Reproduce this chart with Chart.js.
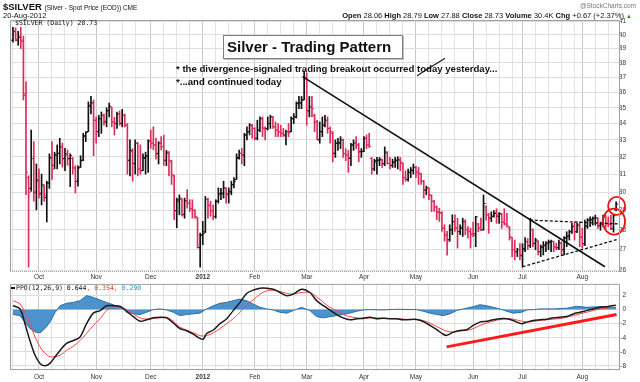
<!DOCTYPE html>
<html>
<head>
<meta charset="utf-8">
<script src="https://cdn.jsdelivr.net/npm/chart.js@4.4.1/dist/chart.umd.min.js"></script>
<style>
  html, body { margin: 0; padding: 0; background: #fff; }
  #wrap { position: relative; width: 640px; height: 382px; overflow: hidden; font-family: "Liberation Sans", Arial, sans-serif; color: #111; }
  canvas { position: absolute; left: 0; }
  #price_chart { top: 0; }
  #ppo_chart { top: 280px; }
  .t { position: absolute; white-space: nowrap; line-height: 1; }
  .mono { font-family: "DejaVu Sans Mono", monospace; font-size: 6.5px; }
  #title_box { left: 223px; top: 35px; width: 175px; height: 22px; line-height: 22px; padding-left: 3px;
    border: 1px solid #7f7f7f; box-shadow: 1px 1px 0 #c0c0c0; background: #fff; font-weight: bold; font-size: 15px; }
  .note { font-weight: bold; font-size: 9.6px; left: 176px; }
  .strike { position: relative; }
  .strike i { position: absolute; left: 55%; top: 40%; width: 33px; height: 1px; background: #111;
    transform: translate(-50%, -50%) rotate(-32deg); }
</style>
</head>
<body>
<div id="wrap">
  <canvas id="price_chart" width="640" height="286"></canvas>
  <canvas id="ppo_chart" width="640" height="102"></canvas>

  <div class="t" style="left:3px;top:2px;font-size:9.5px;font-weight:bold">$SILVER <span style="font-weight:normal;font-size:6.5px">(Silver - Spot Price (EOD)) CME</span></div>
  <div class="t" style="left:3px;top:12px;font-size:7.5px">20-Aug-2012</div>
  <div class="t" style="right:4px;top:3px;font-size:6.5px;color:#777">@StockCharts.com</div>
  <div class="t" style="right:8px;top:12px;font-size:7.5px"><b>Open</b> 28.06 <b>High</b> 28.79 <b>Low</b> 27.88 <b>Close</b> 28.73 <b>Volume</b> 30.4K <b>Chg</b> +0.67 (+2.37%) <span style="color:#1a9a1a;font-size:6px">▲</span></div>

  <div class="t mono" style="left:15px;top:20px">$SILVER (Daily) 28.73</div>
  <div class="t" style="left:11px;top:287px;width:4px;height:1.5px;background:#111"></div>
  <div class="t mono" style="left:16px;top:284.5px">PPO(12,26,9) 0.644<span style="color:#ff3333">, 0.354</span><span style="color:#3399cc">, 0.290</span></div>

  <div class="t" id="title_box">Silver - Trading Pattern</div>
  <div class="t note" style="top:64px">* the divergence-signaled trading breakout occurred <span class="strike">today<i></i></span> yesterday...</div>
  <div class="t note" style="top:77px">*...and continued today</div>
</div>

<script>
// daily bars, 16-Sep-2011 .. 21-Aug-2012 (index = trading day)
const opens = [
  39.6, 40.2, 39.6, 39.9, 39.5, 35.8, 30.8, 30.2, 31.9, 30.0,
  30.6, 29.9, 30.3, 29.7, 30.5, 31.9, 31.5, 32.1, 32.2, 32.6,
  31.9, 32.1, 31.9, 31.9, 31.3, 30.6, 31.4, 31.8, 33.2, 33.5,
  35.1, 35.3, 34.2, 33.5, 34.3, 34.5, 34.1, 34.8, 35.0, 34.1,
  34.0, 34.6, 34.0, 34.5, 33.9, 31.8, 32.3, 31.6, 32.8, 31.3,
  31.2, 31.9, 32.0, 32.9, 32.8, 32.7, 32.2, 32.8, 32.6, 31.8,
  32.2, 31.7, 30.9, 29.0, 29.5, 29.6, 28.8, 29.5, 29.4, 29.1,
  29.0, 28.6, 27.1, 27.7, 27.9, 29.6, 29.3, 29.0, 28.7, 29.5,
  29.9, 29.9, 30.2, 29.9, 30.0, 30.4, 30.7, 31.9, 32.2, 32.1,
  33.3, 33.5, 33.9, 33.7, 33.1, 33.6, 34.3, 33.7, 33.7, 34.0,
  34.4, 33.8, 33.6, 33.5, 33.4, 33.3, 33.5, 33.5, 34.3, 34.4,
  35.3, 35.3, 35.5, 37.0, 34.8, 35.1, 34.5, 34.1, 33.0, 33.5,
  33.9, 34.2, 33.7, 33.4, 32.2, 32.8, 32.8, 33.0, 32.2, 32.1,
  31.9, 32.7, 32.8, 32.7, 32.3, 32.3, 33.1, 32.7, 31.9, 31.3,
  31.7, 31.8, 31.8, 31.6, 32.2, 31.6, 31.5, 31.7, 31.8, 31.8,
  31.6, 30.8, 30.7, 31.1, 31.2, 31.4, 31.1, 31.0, 30.6, 30.1,
  30.2, 29.8, 29.5, 29.2, 28.9, 28.9, 28.1, 27.7, 27.5, 28.0,
  28.4, 28.1, 27.9, 28.1, 28.4, 28.0, 27.9, 27.8, 27.8, 28.3,
  28.1, 28.0, 29.2, 28.8, 28.6, 28.7, 28.9, 28.7, 28.8, 28.4,
  28.3, 28.1, 27.6, 27.0, 26.9, 27.0, 26.7, 27.0, 27.4, 27.2,
  28.0, 27.3, 27.4, 26.9, 27.1, 27.2, 27.3, 27.4, 27.4, 27.1,
  27.1, 27.3, 27.0, 27.6, 27.7, 27.9, 28.2, 27.9, 28.2, 27.6,
  27.3, 28.2, 28.5, 28.5, 28.6, 28.6, 28.2, 28.3, 28.7, 28.3,
  28.3, 28.06, 29.05
];
const highs = [
  40.55, 40.5, 40.25, 40.55, 39.9, 36.7, 30.9, 33.6, 32.9, 31.58,
  31.3, 31.0, 30.4, 30.6, 32.17, 32.9, 32.27, 32.7, 33.1, 32.8,
  32.5, 32.4, 32.17, 31.96, 31.48, 31.48, 32.06, 33.4, 33.5, 35.38,
  35.73, 35.5, 34.42, 34.52, 34.73, 34.6, 35.0, 35.3, 35.05, 34.4,
  34.73, 34.8, 34.9, 34.6, 34.0, 33.0, 32.48, 33.0, 32.85, 32.7,
  32.17, 32.27, 33.0, 33.6, 33.8, 33.1, 32.9, 33.2, 33.3, 32.37,
  32.3, 31.8, 30.95, 29.67, 29.85, 29.65, 29.67, 30.13, 29.58, 29.58,
  29.05, 28.65, 27.83, 28.43, 29.76, 29.67, 29.5, 29.3, 29.58, 30.23,
  30.2, 30.6, 30.23, 30.23, 30.6, 30.8, 32.17, 32.4, 32.5, 33.4,
  33.8, 34.0, 33.95, 33.75, 34.21, 34.42, 34.42, 33.8, 34.42, 34.52,
  34.45, 34.1, 34.0, 33.9, 33.7, 33.6, 34.0, 34.42, 34.63, 35.38,
  35.73, 35.73, 37.42, 37.3, 35.73, 35.73, 34.6, 34.21, 34.1, 34.42,
  34.52, 34.42, 33.8, 33.5, 33.0, 33.1, 33.2, 33.05, 32.48, 32.37,
  32.8, 33.0, 33.2, 32.8, 32.48, 33.2, 33.3, 33.4, 31.96, 31.86,
  31.96, 31.96, 31.86, 32.58, 32.3, 31.96, 31.86, 31.96, 32.0, 31.96,
  31.65, 31.19, 31.29, 31.38, 31.58, 31.45, 31.38, 31.05, 30.65, 30.33,
  30.25, 29.85, 29.55, 29.25, 29.13, 28.95, 28.26, 27.92, 28.26, 28.78,
  28.78, 28.6, 28.26, 28.6, 28.52, 28.17, 28.09, 28.4, 28.7, 28.33,
  28.6, 29.84, 29.25, 28.85, 28.93, 29.0, 29.1, 28.9, 28.85, 29.1,
  28.85, 28.16, 27.62, 27.48, 27.07, 27.3, 27.3, 27.6, 27.55, 28.6,
  28.05, 27.57, 27.45, 27.23, 27.4, 27.4, 27.48, 27.48, 27.42, 27.32,
  27.48, 27.4, 27.65, 27.9, 27.98, 28.33, 28.4, 28.33, 28.4, 28.07,
  28.5, 28.58, 28.67, 28.67, 28.76, 28.62, 28.4, 28.76, 28.76, 28.67,
  28.76, 28.79, 29.47
];
const lows = [
  39.45, 39.55, 39.23, 39.0, 35.5, 29.85, 26.15, 30.04, 29.5, 29.04,
  29.67, 29.3, 29.5, 28.4, 30.2, 30.7, 31.3, 31.3, 31.58, 31.4,
  31.2, 31.5, 30.3, 31.0, 29.95, 30.33, 31.38, 31.77, 32.9, 33.5,
  34.6, 32.06, 32.8, 33.2, 33.4, 33.9, 33.8, 34.42, 33.8, 33.3,
  33.7, 33.9, 33.8, 33.8, 31.0, 30.9, 30.6, 31.0, 30.9, 31.0,
  31.2, 31.0, 31.1, 32.5, 32.4, 31.86, 31.58, 32.4, 31.5, 31.48,
  30.9, 30.42, 28.52, 28.1, 28.78, 28.7, 28.6, 29.13, 28.95, 28.6,
  28.6, 27.08, 26.15, 27.25, 27.85, 28.6, 28.7, 28.52, 28.6, 29.4,
  29.58, 29.67, 29.4, 29.4, 29.85, 30.23, 30.7, 31.86, 31.58, 31.48,
  33.0, 33.3, 33.1, 33.0, 33.0, 33.5, 33.2, 33.0, 33.6, 33.7,
  33.7, 33.2, 33.2, 33.2, 33.2, 32.7, 33.2, 33.5, 34.0, 34.35,
  34.94, 34.94, 35.5, 33.9, 34.42, 34.42, 33.5, 33.0, 32.8, 33.2,
  33.8, 33.4, 32.8, 31.7, 31.96, 32.37, 32.48, 31.96, 31.77, 31.1,
  31.48, 32.37, 32.48, 31.7, 31.96, 32.3, 32.48, 32.55, 31.0, 31.19,
  31.0, 31.48, 31.38, 31.48, 31.58, 31.29, 31.38, 31.38, 31.29, 31.19,
  30.42, 30.6, 30.6, 30.8, 31.0, 30.8, 30.42, 30.42, 29.67, 29.85,
  29.58, 28.95, 28.95, 28.52, 28.43, 27.92, 27.42, 26.73, 27.42, 27.75,
  27.92, 27.08, 27.75, 27.66, 27.75, 27.58, 27.08, 27.65, 27.15, 27.9,
  27.95, 27.98, 28.5, 27.82, 28.42, 28.65, 28.33, 28.33, 28.07, 28.24,
  28.15, 27.48, 26.66, 26.5, 26.66, 26.5, 26.15, 26.9, 27.0, 27.1,
  27.15, 27.0, 26.74, 26.66, 26.74, 26.9, 27.0, 26.9, 26.9, 27.0,
  27.0, 26.74, 26.74, 27.15, 27.48, 27.82, 27.48, 27.85, 27.15, 27.07,
  27.2, 28.07, 28.16, 28.24, 28.24, 28.07, 27.98, 28.16, 28.07, 28.16,
  28.0, 27.88, 29.0
];
const closes = [
  40.25, 39.7, 39.8, 39.6, 35.9, 31.1, 30.0, 31.9, 29.95, 30.67,
  29.95, 30.4, 29.8, 30.5, 31.96, 31.27, 32.12, 32.2, 32.58, 31.87,
  32.17, 31.87, 32.06, 31.38, 30.58, 31.35, 31.77, 33.26, 33.46, 35.16,
  35.32, 34.21, 33.5, 34.31, 34.52, 34.15, 34.83, 35.1, 34.1, 34.0,
  34.6, 34.04, 34.52, 33.9, 31.77, 32.37, 31.63, 32.8, 31.29, 31.2,
  31.96, 32.06, 32.94, 32.8, 32.7, 32.17, 32.8, 32.6, 31.77, 32.27,
  31.77, 30.96, 28.98, 29.58, 29.67, 28.78, 29.53, 29.4, 29.09, 29.03,
  28.69, 27.12, 27.75, 27.8, 29.6, 29.27, 28.98, 28.65, 29.5, 29.9,
  29.95, 30.23, 29.85, 30.04, 30.42, 30.6, 31.96, 32.2, 32.1, 33.3,
  33.5, 33.9, 33.7, 33.1, 33.6, 34.31, 33.74, 33.65, 34.0, 34.42,
  33.8, 33.6, 33.5, 33.4, 33.3, 33.5, 33.44, 34.31, 34.42, 35.27,
  35.32, 35.5, 36.96, 34.83, 35.04, 34.94, 34.1, 33.04, 33.5, 33.9,
  34.21, 33.7, 33.5, 32.23, 32.8, 32.85, 33.0, 32.17, 32.1, 31.96,
  32.69, 32.8, 32.69, 32.27, 32.33, 33.1, 32.69, 32.6, 31.29, 31.77,
  31.8, 31.85, 31.58, 32.27, 31.6, 31.48, 31.67, 31.77, 31.82, 31.67,
  30.8, 30.7, 31.1, 31.23, 31.38, 31.1, 31.05, 30.6, 30.13, 30.23,
  29.85, 29.49, 29.2, 28.95, 28.86, 28.09, 27.75, 27.42, 28.0, 28.43,
  28.09, 27.92, 28.09, 28.43, 28.0, 27.92, 27.75, 27.7, 28.67, 28.05,
  28.0, 29.38, 28.76, 28.6, 28.7, 28.85, 28.76, 28.85, 28.4, 28.3,
  28.2, 27.65, 27.0, 26.9, 27.0, 26.75, 27.05, 27.4, 27.2, 28.5,
  27.32, 27.48, 26.9, 27.15, 27.23, 27.32, 27.35, 27.42, 27.15, 27.08,
  27.32, 26.98, 27.57, 27.65, 27.9, 28.16, 27.9, 28.24, 27.65, 27.23,
  28.16, 28.5, 28.55, 28.6, 28.62, 28.24, 28.3, 28.67, 28.33, 28.28,
  28.06, 28.73, 29.35
];

// month labels (bar index of first trading day) and axis ticks
const monthIdx = [10, 32, 53, 73, 93, 113, 135, 155, 177, 196, 219];
const monthNames = ["Oct", "Nov", "Dec", "2012", "Feb", "Mar", "Apr", "May", "Jun", "Jul", "Aug"];
const priceTicks = [26, 27, 28, 29, 30, 31, 32, 33, 34, 35, 36, 37, 38, 39, 40, 41];
const ppoTicks = [2, 0, -2, -4, -6, -8];

// PPO(12,26,9)
const ppoX = [0, 2.7, 4.6, 6.5, 8.5, 10.4, 12.3, 14.2, 16.2, 18.1,
  20.6, 23.2, 25.8, 28.3, 30.9, 33.5, 36.0, 38.6, 41.2, 43.7,
  46.3, 48.9, 51.4, 54.0, 56.5, 59.1, 61.7, 64.2, 66.8, 69.4,
  71.9, 73.2, 74.5, 77.1, 79.6, 82.2, 84.7, 87.3, 89.9, 92.4,
  95.0, 97.6, 100.1, 102.7, 105.3, 107.8, 111.0, 114.2, 116.8, 119.4,
  121.9, 124.5, 127.0, 129.6, 132.2, 134.7, 137.3, 139.9, 142.4, 145.0,
  147.6, 150.1, 152.7, 155.3, 157.8, 160.4, 163.0, 165.5, 166.8, 169.4,
  171.9, 174.5, 177.0, 179.6, 182.2, 184.7, 187.3, 189.9, 192.4, 195.6,
  197.6, 200.1, 202.7, 205.3, 207.8, 210.4, 213.0, 215.5, 218.1, 220.6,
  223.2, 225.8, 229, 232];
const ppoLine = [0.56, 0.1, -2.0, -4.4, -6.5, -7.65, -8.0, -7.65, -6.7, -5.8,
  -4.8, -4.4, -3.9, -2.0, -0.5, -0.14, 0.56, 0.56, 0.47, -0.23,
  -1.0, -1.65, -1.45, -1.17, -1.08, -1.17, -1.9, -2.7, -3.0, -3.5,
  -4.1, -4.2, -3.4, -2.9, -2.0, -1.3, -0.14, 1.03, 2.3, 2.77,
  3.05, 3.05, 2.9, 2.44, 1.97, 2.2, 2.9, 2.44, 1.27, 0.56,
  -0.05, -0.7, -1.17, -1.45, -1.3, -1.22, -1.08, -1.3, -1.22, -1.3,
  -1.3, -1.45, -1.4, -1.4, -1.69, -2.25, -2.86, -3.5, -3.66, -3.2,
  -2.96, -2.86, -2.25, -1.78, -1.64, -1.45, -1.3, -1.3, -1.55, -2.0,
  -1.78, -1.55, -1.45, -1.36, -1.17, -1.08, -0.99, -0.61, -0.38, -0.14,
  0.1, 0.33, 0.45, 0.64];
const signalLine = [1.27, 0.8, -0.4, -2.0, -3.9, -5.3, -6.2, -6.7, -6.7, -6.5,
  -5.8, -5.2, -4.4, -3.4, -2.25, -1.3, -0.14, 0.42, 0.47, 0,
  -0.6, -1.17, -1.36, -1.27, -1.17, -1.08, -1.65, -2.5, -2.9, -3.3,
  -3.7, -3.75, -3.7, -3.3, -2.7, -2.0, -1.3, -0.38, 0.7, 1.36,
  2.2, 2.68, 2.77, 2.58, 2.3, 2.2, 2.44, 2.44, 1.83, 1.03,
  0.33, -0.14, -0.7, -1.0, -1.17, -1.3, -1.17, -1.17, -1.22, -1.27,
  -1.3, -1.36, -1.4, -1.4, -1.55, -1.92, -2.4, -2.86, -3.05, -3.2,
  -3.05, -2.96, -2.72, -2.25, -1.92, -1.64, -1.4, -1.3, -1.36, -1.64,
  -1.78, -1.69, -1.55, -1.45, -1.36, -1.27, -1.08, -0.85, -0.61, -0.38,
  -0.14, 0.1, 0.25, 0.35];
const histX = [0, 2.7, 4.6, 6.5, 8.5, 10.4, 12.3, 14.2, 16.2, 18.1,
  20.6, 23.2, 25.8, 28.3, 30.9, 33.5, 36.0, 38.6, 41.2, 43.0,
  43.7, 46.3, 48.9, 51.4, 54.0, 56.5, 59.1, 61.7, 64.2, 66.8,
  69.4, 71.9, 74.5, 77.1, 79.6, 82.2, 84.7, 87.3, 89.9, 92.4,
  95.0, 97.6, 100.1, 102.7, 105.3, 107.8, 111.0, 114.2, 116.8, 119.4,
  121.9, 124.5, 127.0, 129.6, 132.2, 134.7, 137.3, 142.4, 147.6, 155.3,
  157.8, 160.4, 163.0, 165.5, 168.1, 170.6, 173.2, 177.0, 179.6, 182.2,
  184.7, 187.3, 189.9, 192.4, 195.6, 197.6, 200.1, 202.7, 207.8, 213.0,
  216.8, 220.6, 225.8, 232];
const histVals = [-0.7, -0.85, -1.8, -2.7, -3.2, -3.3, -2.7, -1.8, -0.4, 0.56,
  0.9, 1.03, 1.27, 2.0, 1.74, 1.36, 1.03, 0.7, 0.33, 0,
  -0.38, -0.6, -0.7, -0.38, 0, 0.1, -0.05, -0.38, -0.85, -0.7,
  -0.6, -0.5, 0.1, 0.56, 0.9, 1.03, 1.27, 1.5, 1.27, 0.8,
  0.33, 0.1, -0.05, -0.38, -0.5, -0.14, 0.33, -0.14, -1.0, -1.17,
  -1.0, -0.85, -0.7, -0.5, -0.23, -0.05, 0, -0.05, 0.05, 0,
  -0.23, -0.5, -0.7, -0.85, -0.6, -0.14, 0.1, 0.42, 0.7, 0.56,
  0.33, 0.1, -0.23, -0.5, -0.38, -0.05, 0, 0.1, 0.1, 0.2,
  0.47, 0.33, 0.42, 0.29];

// hand-drawn annotations, in [bar index, value]
const downTrend = [[111.4, 37.05], [227.7, 26.17]];
const wedgeTop = [[198.8, 28.5], [233.5, 28.3]];
const wedgeBottom = [[196, 26.17], [232.2, 27.5]];
const breakoutCircles = [[232.2, 29.25, 8.5, 9], [231.2, 28.42, 11, 13]];
const ppoDivergence = [[166.8, -5.3], [232.2, -0.7]];

const UP = "#111111";
const DOWN = "#dc2d5c";

Chart.defaults.font.family = '"Liberation Sans", Arial, sans-serif';
Chart.defaults.color = "#333";

// weekly grid lines between month starts
const weekTicks = [0, 5];
monthIdx.forEach((m, i) => {
  const end = i + 1 < monthIdx.length ? monthIdx[i + 1] : 234;
  for (let k = m; k < end - 2; k += 5) weekTicks.push(k);
});

const xAxis = (pad, h) => ({
  type: "linear", min: -1.15, max: 233.5, offset: false,
  afterBuildTicks: s => { s.ticks = weekTicks.map(v => ({ value: v })); },
  afterFit: s => { s.height = h; },
  ticks: {
    autoSkip: false, maxRotation: 0, padding: pad, color: "#333",
    callback: v => { const i = monthIdx.indexOf(v); return i < 0 ? "" : monthNames[i]; },
    font: c => ({ size: 6.5, weight: c.tick && c.tick.value === 73 ? "bold" : "normal" })
  },
  grid: {
    offset: false, drawTicks: false,
    color: c => (c.tick && monthIdx.includes(c.tick.value)) ? "#c8c8c8" : "#e2e2e2"
  },
  border: { display: false }
});

// panel frame: dotted bottom edge on the price panel
const frame = (dottedBottom) => ({
  id: "frame",
  afterDraw(chart) {
    const { ctx, chartArea: a } = chart;
    ctx.save();
    ctx.strokeStyle = "#a0a0a0";
    ctx.lineWidth = 1;
    ctx.beginPath();
    ctx.moveTo(a.left + 0.5, a.bottom);
    ctx.lineTo(a.left + 0.5, a.top + 0.5);
    ctx.lineTo(a.right - 0.5, a.top + 0.5);
    ctx.lineTo(a.right - 0.5, a.bottom);
    ctx.stroke();
    if (dottedBottom) ctx.setLineDash([1, 1]);
    ctx.beginPath();
    ctx.moveTo(a.left, a.bottom - 0.5);
    ctx.lineTo(a.right, a.bottom - 0.5);
    ctx.stroke();
    ctx.restore();
  }
});

// open / close ticks on each high-low bar
const ohlcTicks = {
  id: "ohlcTicks",
  afterDatasetsDraw(chart) {
    const { ctx, scales: { y } } = chart;
    const bars = chart.getDatasetMeta(0).data;
    ctx.save();
    bars.forEach((bar, i) => {
      ctx.fillStyle = barColors[i];
      ctx.fillRect(bar.x - 2, y.getPixelForValue(opens[i]) - 0.5, 2, 1);
      ctx.fillRect(bar.x, y.getPixelForValue(closes[i]) - 0.5, 2, 1);
    });
    ctx.restore();
  }
};

const priceNotes = {
  id: "priceNotes",
  afterDatasetsDraw(chart) {
    const { ctx, scales: { x, y } } = chart;
    const seg = (p) => {
      ctx.beginPath();
      ctx.moveTo(x.getPixelForValue(p[0][0]), y.getPixelForValue(p[0][1]));
      ctx.lineTo(x.getPixelForValue(p[1][0]), y.getPixelForValue(p[1][1]));
      ctx.stroke();
    };
    ctx.save();
    ctx.strokeStyle = "#111";
    ctx.lineWidth = 1.6;
    seg(downTrend);
    ctx.lineWidth = 1.3;
    ctx.setLineDash([3, 2]);
    seg(wedgeTop);
    seg(wedgeBottom);
    ctx.setLineDash([]);
    ctx.strokeStyle = "#e81515";
    ctx.lineWidth = 1.8;
    breakoutCircles.forEach(c => {
      ctx.beginPath();
      ctx.ellipse(x.getPixelForValue(c[0]), y.getPixelForValue(c[1]), c[2], c[3], 0, 0, Math.PI * 2);
      ctx.stroke();
    });
    ctx.restore();
  }
};

const ppoNotes = {
  id: "ppoNotes",
  afterDatasetsDraw(chart) {
    const { ctx, scales: { x, y } } = chart;
    ctx.save();
    ctx.strokeStyle = "#ff1a1a";
    ctx.lineWidth = 3;
    ctx.beginPath();
    ctx.moveTo(x.getPixelForValue(ppoDivergence[0][0]), y.getPixelForValue(ppoDivergence[0][1]));
    ctx.lineTo(x.getPixelForValue(ppoDivergence[1][0]), y.getPixelForValue(ppoDivergence[1][1]));
    ctx.stroke();
    ctx.restore();
  }
};

// black when the close is up on the day, red when down
const barColors = closes.map((c, i) => (i === 0 || c >= closes[i - 1]) ? UP : DOWN);

new Chart(document.getElementById("price_chart"), {
  type: "bar",
  data: {
    datasets: [{
      data: closes.map((c, i) => ({ x: i, y: [lows[i], highs[i]] })),
      backgroundColor: barColors,
      borderWidth: 0,
      barThickness: 1
    }]
  },
  options: {
    responsive: false,
    animation: false,
    layout: { padding: { left: 10, right: 14, top: 20, bottom: 0 } },
    plugins: { legend: { display: false }, tooltip: { enabled: false } },
    scales: {
      x: xAxis(1, 14),
      y: {
        type: "logarithmic", position: "right", min: 25.92, max: 41.09,
        afterBuildTicks: s => { s.ticks = priceTicks.map(v => ({ value: v })); },
        afterFit: s => { s.width = 6; },
        ticks: { callback: v => String(v), padding: 0, crossAlign: "far", autoSkip: false, color: "#333", font: { size: 6.5 } },
        grid: { color: "#dedede", drawTicks: false },
        border: { display: false }
      }
    }
  },
  plugins: [frame(true), ohlcTicks, priceNotes]
});

new Chart(document.getElementById("ppo_chart"), {
  type: "line",
  data: {
    datasets: [
      {
        data: ppoX.map((x, i) => ({ x, y: ppoLine[i] })),
        borderColor: "#1a1a1a", borderWidth: 1.5, pointRadius: 0, tension: 0.3
      },
      {
        data: ppoX.map((x, i) => ({ x, y: signalLine[i] })),
        borderColor: "#ff4444", borderWidth: 1, pointRadius: 0, tension: 0.3
      },
      {
        data: histX.map((x, i) => ({ x, y: histVals[i] })),
        borderColor: "#2c6ea6", borderWidth: 1, backgroundColor: "#4c92cc",
        fill: "origin", pointRadius: 0, tension: 0
      }
    ]
  },
  options: {
    responsive: false,
    animation: false,
    layout: { padding: { left: 10, right: 14, top: 3, bottom: 0 } },
    plugins: { legend: { display: false }, tooltip: { enabled: false } },
    scales: {
      x: xAxis(3, 12),
      y: {
        type: "linear", position: "right", min: -8.59, max: 3.66,
        afterBuildTicks: s => { s.ticks = ppoTicks.map(v => ({ value: v })); },
        afterFit: s => { s.width = 6; },
        ticks: { callback: v => String(v), padding: 0, crossAlign: "far", color: "#333", font: { size: 6.5 } },
        grid: { color: "#dedede", drawTicks: false },
        border: { display: false }
      }
    }
  },
  plugins: [frame(false), ppoNotes]
});
</script>
</body>
</html>
